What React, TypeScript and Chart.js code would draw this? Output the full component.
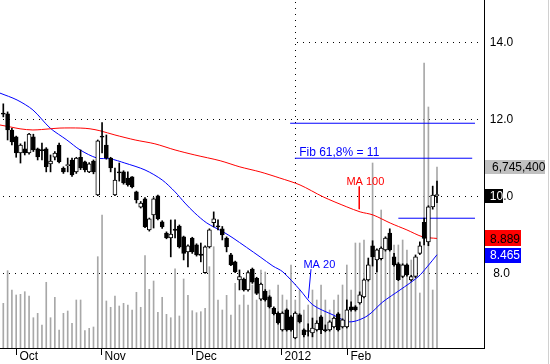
import React, { useEffect, useRef } from 'react';
import { Chart, registerables } from 'chart.js';

Chart.register(...registerables);

const FONT = '"Liberation Sans", Arial, sans-serif';

// ---- daily candles (index 0 = first trading day shown) ----
const opens = [
  12.15, 12.13, 11.71, 11.53, 11.11, 11.22, 11.11, 11.53, 11.22, 11.2,
  11.22, 10.83, 11.0, 11.32, 10.72, 10.78, 10.93, 10.62, 11.0, 10.88,
  10.62, 10.9, 10.02, 11.55, 11.32, 10.98, 10.02, 10.62, 10.62, 10.46,
  10.49, 10.1, 9.7, 9.92, 9.11, 9.5, 10.0, 9.32, 9.03, 8.9,
  9.13, 9.21, 8.93, 8.54, 8.9, 8.72, 8.48, 8.0, 8.67, 9.3,
  9.22, 9.14, 8.9, 8.46, 8.28, 7.81, 7.83, 7.55, 8.09, 7.85,
  7.31, 7.52, 7.37, 7.08, 6.95, 6.51, 7.03, 6.85, 6.3, 6.9,
  6.51, 6.49, 6.43, 6.51, 6.85, 6.52, 6.51, 6.59, 6.93, 6.59,
  6.59, 7.11, 7.11, 7.21, 7.37, 7.81, 8.7, 8.33, 8.36, 8.59,
  9.03, 8.41, 8.23, 7.9, 8.2, 7.81, 7.9, 8.5, 9.31, 8.8,
  9.71, 10.0,
];
const highs = [
  12.39, 12.18, 11.75, 11.55, 11.35, 11.4, 11.62, 11.6, 11.24, 11.37,
  11.25, 11.06, 11.15, 11.37, 10.75, 10.98, 10.98, 11.0, 11.19, 10.9,
  10.86, 10.93, 11.45, 11.9, 11.58, 11.0, 10.72, 10.85, 10.65, 10.62,
  10.5, 10.12, 9.85, 9.95, 9.42, 9.95, 10.02, 9.35, 9.06, 9.37,
  9.37, 9.24, 8.95, 8.72, 8.92, 8.75, 8.77, 8.7, 9.14, 9.58,
  9.37, 9.2, 8.93, 8.5, 8.3, 8.07, 7.86, 8.05, 8.12, 7.88,
  7.73, 7.56, 7.4, 7.11, 6.98, 6.98, 7.06, 6.88, 6.98, 6.93,
  6.54, 6.67, 6.82, 6.75, 6.88, 6.64, 6.75, 6.85, 6.96, 6.8,
  7.29, 7.24, 7.14, 7.5, 7.84, 8.38, 8.83, 8.62, 8.67, 8.93,
  9.14, 8.5, 8.26, 8.23, 8.23, 7.93, 8.46, 8.8, 9.42, 9.74,
  10.25, 10.38,
];
const lows = [
  12.05, 11.45, 11.32, 11.0, 10.85, 11.06, 11.08, 11.15, 10.93, 10.93,
  10.62, 10.62, 10.93, 10.85, 10.58, 10.62, 10.5, 10.58, 10.68, 10.62,
  10.6, 10.57, 10.0, 11.11, 10.95, 10.62, 10.0, 10.38, 10.3, 10.25,
  10.2, 9.81, 9.68, 9.17, 9.08, 9.16, 9.37, 9.15, 8.88, 8.41,
  8.9, 8.64, 8.33, 8.15, 8.5, 8.43, 8.28, 7.98, 8.64, 9.19,
  9.11, 8.85, 8.54, 8.18, 8.0, 7.55, 7.52, 7.52, 7.72, 7.43,
  7.28, 7.26, 7.08, 6.9, 6.66, 6.48, 6.48, 6.48, 6.28, 6.69,
  6.33, 6.35, 6.33, 6.48, 6.41, 6.46, 6.48, 6.56, 6.48, 6.56,
  6.56, 7.0, 7.0, 7.18, 7.34, 7.78, 8.17, 8.02, 8.33, 8.56,
  8.56, 8.17, 7.79, 7.87, 7.91, 7.78, 7.87, 8.47, 8.72, 8.7,
  9.65, 9.82,
];
const closes = [
  12.12, 11.71, 11.4, 11.11, 11.32, 11.11, 11.6, 11.19, 11.01, 11.17,
  10.75, 10.9, 11.11, 10.88, 10.62, 10.81, 10.54, 10.98, 10.72, 10.67,
  10.83, 10.62, 11.43, 11.52, 10.98, 10.72, 10.41, 10.59, 10.33, 10.28,
  10.23, 9.89, 9.81, 9.19, 9.4, 9.92, 9.4, 9.19, 8.9, 9.0,
  9.1, 8.67, 8.5, 8.7, 8.54, 8.46, 8.45, 8.67, 9.11, 9.4,
  9.19, 8.98, 8.67, 8.2, 8.02, 7.9, 7.55, 8.0, 7.75, 7.46,
  7.7, 7.29, 7.11, 6.93, 6.69, 6.95, 6.51, 6.51, 6.95, 6.72,
  6.38, 6.47, 6.56, 6.69, 6.51, 6.49, 6.72, 6.82, 6.51, 6.77,
  7.03, 7.03, 7.03, 7.42, 7.81, 8.2, 8.41, 8.59, 8.64, 8.9,
  8.59, 8.2, 7.82, 8.2, 7.94, 7.9, 8.41, 8.7, 8.89, 9.71,
  10.02, 10.03,
];
const volumes = [
  1666000, 2881000, 2162000, 1975000, 2001000, 2098000, 1938000, 1129000, 1293000, 857000,
  2449000, 1129000, 1890000, 671000, 1293000, 1379000, 921000, 1789000, 1789000, 645000,
  734000, 783000, 3403000, 4957000, 1752000, 1517000, 1938000, 1565000, 1666000, 1603000,
  1416000, 2076000, 1517000, 3440000, 2188000, 2497000, 1331000, 1890000, 1256000, 1129000,
  2955000, 1193000, 2572000, 1964000, 1390000, 1316000, 1353000, 1480000, 3030000, 3775000,
  1789000, 1416000, 1964000, 1230000, 2411000, 1603000, 1975000, 1603000, 2348000, 1789000,
  2907000, 2833000, 2162000, 1416000, 2348000, 1975000, 1789000, 3093000, 1789000, 2162000,
  1416000, 1603000, 2162000, 1789000, 2348000, 1789000, 1416000, 1789000, 1975000, 2348000,
  3093000, 2162000, 3913000, 3913000, 4025000, 3205000, 6895000, 3652000, 5143000, 4137000,
  4398000, 3839000, 3839000, 4025000, 3652000, 3280000, 2907000, 2050000, 10622000, 8982000,
  2162000, 6745400,
];

// ---- moving averages (day index, value) ----
const ma20Idx = [-0.8, 3.2, 6.9, 10.9, 14.8, 17.9, 21.8, 24.9, 28.3, 33.0, 37.0, 40.0, 42.3, 44.6, 47.4, 51.2, 53.5, 59.8, 62.8, 65.1, 69.1, 72.1, 76.8, 80.7, 84.7, 88.4, 92.4, 96.6, 98.7, 101];
const ma20Val = [12.67, 12.49, 12.23, 11.76, 11.45, 11.19, 10.98, 10.96, 10.85, 10.67, 10.41, 10.1, 9.81, 9.55, 9.29, 9.06, 8.9, 8.41, 8.17, 8.02, 7.55, 7.16, 6.9, 6.72, 6.87, 7.24, 7.55, 7.89, 8.15, 8.465];
const ma100Idx = [-0.8, 1.6, 3.9, 6.9, 10.9, 13.2, 17.9, 20.2, 22.5, 26.0, 30.7, 35.3, 40.0, 44.6, 50.5, 55.1, 59.8, 64.4, 69.1, 74.5, 80.0, 83.1, 86.1, 90.1, 94.0, 97.7, 101];
const ma100Val = [11.84, 11.79, 11.74, 11.71, 11.74, 11.76, 11.76, 11.74, 11.69, 11.58, 11.45, 11.35, 11.19, 11.06, 10.91, 10.75, 10.62, 10.46, 10.28, 9.97, 9.71, 9.58, 9.5, 9.29, 9.11, 8.93, 8.889];

// ---- axes ----
const priceTicks = [8, 10, 12, 14];
const gridStartIdx = [-0.77, -0.77, -0.77, 67.3];
const monthTickIdx = [2.9, 22.8, 43.9, 64.7, 80.0];
const monthLabels = ['Oct', 'Nov', 'Dec', '2012', 'Feb'];
const yearLineIdx = 68;

// ---- drawn levels and notes ----
const levelValues = [11.885, 10.975, 9.415];
const levelStart = [66.8, 67.9, 92.0];
const levelEnd = [109.85, 109.2, 109.85];
const noteTexts = ['Fib 61,8% = 11', 'MA 100', 'MA 20'];
const noteIdx = [68.9, 79.9, 69.9];
const noteVal = [11.035, 10.281, 8.114];
const noteColors = ['#0000ff', '#ff0000', '#0000ff'];
const noteSizes = [12, 11, 11];
const leaderIdx = [[82.9, 82.9], [71.66, 71.03]];
const leaderVal = [[10.24, 9.65], [8.09, 7.33]];
const leaderColors = ['#ff0000', '#0000ff'];

const lastVolume = 6745400;
const lastClose = 10.0;
const lastMa100 = 8.889;
const lastMa20 = 8.465;

const overlay = {
  id: 'overlay',
  beforeDatasetsDraw(chart: any) {
    const { ctx, chartArea: a, scales } = chart;
    const y = scales.y;
    const x = scales.x;
    ctx.save();
    ctx.fillStyle = '#000';
    priceTicks.forEach((t, i) => {
      const py = Math.round(y.getPixelForValue(t));
      const sx = Math.max(a.left, Math.round(x.getPixelForValue(gridStartIdx[i])));
      for (let px = a.left + 3; px < a.right - 2; px += 6) {
        if (px >= sx) ctx.fillRect(px, py, 1, 1);
      }
    });
    const vx = Math.round(x.getPixelForValue(yearLineIdx));
    for (let py = a.top + 2; py < a.bottom; py += 6) ctx.fillRect(vx, py, 1, 1);
    ctx.restore();
  },
  afterDatasetsDraw(chart: any) {
    const { ctx, chartArea: a, scales } = chart;
    const y = scales.y;
    const x = scales.x;
    const yv = scales.yv;
    ctx.save();
    // borders
    ctx.fillStyle = '#000';
    ctx.fillRect(a.right - 1, 0, 1, a.bottom + 1);
    ctx.fillRect(0, a.bottom, a.right, 1);
    ctx.fillStyle = '#d0d0d0';
    ctx.fillRect(548, 0, 1, 364);

    // month ticks
    ctx.font = `12px ${FONT}`;
    ctx.textBaseline = 'alphabetic';
    ctx.textAlign = 'left';
    monthTickIdx.forEach((t, i) => {
      const px = Math.round(x.getPixelForValue(t));
      ctx.fillStyle = '#000';
      ctx.fillRect(px, a.bottom + 1, 1, 6);
      ctx.fillText(monthLabels[i], px + 3.5, a.bottom + 11.5);
    });

    // notes
    noteTexts.forEach((txt, i) => {
      ctx.font = `${noteSizes[i]}px ${FONT}`;
      ctx.fillStyle = noteColors[i];
      ctx.fillText(txt, x.getPixelForValue(noteIdx[i]), y.getPixelForValue(noteVal[i]));
    });

    // right side value boxes
    const L = a.right;
    ctx.font = `12px ${FONT}`;
    const vy = yv.getPixelForValue(lastVolume);
    ctx.fillStyle = '#c0c0c0';
    ctx.fillRect(L, Math.round(vy - 7), 60, 14);
    ctx.fillStyle = '#000';
    ctx.fillText(lastVolume.toLocaleString('en-US'), L + 7, vy + 4.3);

    const ry = y.getPixelForValue(lastMa100);
    ctx.fillStyle = '#ff0000';
    ctx.fillRect(L, Math.round(ry - 8), 36, 16);
    ctx.fillStyle = '#000';
    ctx.fillText(lastMa100.toFixed(3), L + 5, ry + 4.3);

    const by = y.getPixelForValue(lastMa20);
    ctx.fillStyle = '#0000ff';
    ctx.fillRect(L, Math.round(by - 7), 36, 15);
    ctx.fillStyle = '#fff';
    ctx.fillText(lastMa20.toFixed(3), L + 5, by + 4.3);

    const cy = y.getPixelForValue(lastClose);
    const boxTop = Math.round(cy - 7);
    ctx.fillStyle = '#000';
    ctx.fillRect(L, boxTop, 18, 14);

    // price labels
    ctx.textAlign = 'center';
    for (const t of priceTicks) {
      const py = y.getPixelForValue(t) + 4.3;
      ctx.fillStyle = '#000';
      ctx.fillText(t.toFixed(1), 501.5, py);
      if (t === lastClose) {
        ctx.save();
        ctx.beginPath();
        ctx.rect(L, boxTop, 18, 14);
        ctx.clip();
        ctx.fillStyle = '#fff';
        ctx.fillText(t.toFixed(1), 501.5, py);
        ctx.restore();
      }
    }
    ctx.restore();
  },
};

export default function App() {
  const ref = useRef<HTMLCanvasElement>(null);
  useEffect(() => {
    const canvas = ref.current;
    if (!canvas) return;
    const lineCommon = { type: 'line', pointRadius: 0, borderWidth: 1, fill: false, yAxisID: 'y' };
    const datasets: any[] = [
      {
        type: 'bar', label: 'Volume', yAxisID: 'yv',
        data: volumes.map((v, i) => ({ x: i, y: v })),
        backgroundColor: '#a8a8a8', barThickness: 1, grouped: false, order: 6,
      },
      {
        ...lineCommon, label: 'MA 100', borderColor: '#ff0000', tension: 0.3, order: 4,
        data: ma100Idx.map((t, i) => ({ x: t, y: ma100Val[i] })),
      },
      {
        ...lineCommon, label: 'MA 20', borderColor: '#0000ff', tension: 0.3, order: 4,
        data: ma20Idx.map((t, i) => ({ x: t, y: ma20Val[i] })),
      },
      ...levelValues.map((v, i) => ({
        ...lineCommon, label: 'level' + i, borderColor: '#0000ff', tension: 0, order: 3,
        data: [{ x: levelStart[i], y: v }, { x: levelEnd[i], y: v }],
      })),
      ...leaderIdx.map((pts, i) => ({
        ...lineCommon, label: 'leader' + i, borderColor: leaderColors[i], tension: 0, order: 3,
        data: pts.map((t, k) => ({ x: t, y: leaderVal[i][k] })),
      })),
      {
        type: 'bar', label: 'wick', yAxisID: 'y',
        data: highs.map((h, i) => ({ x: i, y: [lows[i], h] })),
        backgroundColor: '#000', barThickness: 1, grouped: false, order: 2,
      },
      {
        type: 'bar', label: 'body', yAxisID: 'y',
        data: opens.map((o, i) => ({ x: i, y: [Math.min(o, closes[i]), Math.max(o, closes[i])] })),
        backgroundColor: opens.map((o, i) => (closes[i] >= o ? '#ffffff' : '#000000')),
        borderColor: '#000', borderWidth: 1, borderSkipped: false, barThickness: 4,
        minBarLength: 1, grouped: false, order: 1,
      },
    ];
    const chart = new Chart(canvas, {
      type: 'bar',
      data: { datasets },
      options: {
        animation: false,
        responsive: false,
        maintainAspectRatio: false,
        devicePixelRatio: 1,
        layout: { padding: { left: 0, top: 0, right: 65, bottom: 16 } },
        plugins: { legend: { display: false }, tooltip: { enabled: false } },
        scales: {
          x: { type: 'linear', min: -0.77, max: 112.18, display: false, offset: false, grid: { display: false } },
          y: { type: 'linear', min: 6.04, max: 15.09, display: false },
          yv: { type: 'linear', min: 0, max: 12970000, display: false },
        },
      } as any,
      plugins: [overlay],
    } as any);
    return () => chart.destroy();
  }, []);
  return (
    <div style={{ position: 'absolute', left: 0, top: 0, width: 550, height: 364, background: '#fff' }}>
      <canvas ref={ref} width={550} height={364} style={{ display: 'block', width: 550, height: 364 }} />
    </div>
  );
}
